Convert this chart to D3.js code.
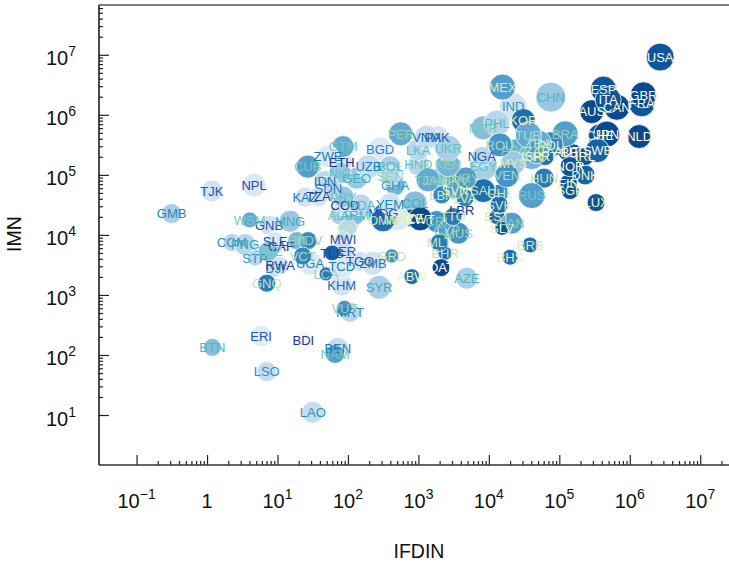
<!DOCTYPE html>
<html>
<head>
<meta charset="utf-8">
<script src="https://cdn.jsdelivr.net/npm/d3@7"></script>
<style>
  body { margin: 0; background: #fff; }
  svg text { font-family: "Liberation Sans", Arial, sans-serif; }
</style>
</head>
<body>
<svg id="chart" width="729" height="564"></svg>
<script>
// values, one entry per country
const codes = ["USA","CHN","MEX","IND","ESP","ITA","GBR","FRA","AUS","CAN","KOR","BRA","TUR","JPN","CHE","NLD","SWE","POL","THA","ZAF","ISR","MYS","PRT","AUT","BEL","IRL","NOR","DNK","HUN","FIN","SGP","LUX","RUS","VEN","ROU","PHL","MAR","NGA","EGY","SAU","CHL","SVK","EST","PAN","SLV","BRB","BHS","AZE","QAT","ABW","GRD","BHR","MLT","MUS","CYP","LBR","TTO","CRI","KWT","CZE","MOZ","OMN","MDG","YEM","COL","LBN","SVN","LVA","URY","HRV","JAM","TUN","GHA","HND","SEN","BOL","UZB","BGD","GEO","PER","VNM","PAK","UKR","LKA","KEN","GMB","TJK","NPL","WSM","GNB","MNG","COM","PNG","SLE","CAF","STP","SWZ","MDV","FJI","VCT","UGA","RWA","DJI","GNQ","LCA","NER","MWI","TCD","KHM","TLS","KAZ","TZA","CUB","ZWE","ETH","GTM","NIC","SDN","IDN","COD","PRY","ARM","CIV","MDA","ALB","TGO","ZMB","SYR","MRT","VUT","ERI","BTN","BDI","BEN","NAM","LSO","LAO","ARG"];
const ifdin = [2.70e6,7.57e4,1.56e4,2.21e4,4.23e5,4.93e5,1.56e6,1.48e6,2.89e5,6.55e5,3.09e4,1.21e5,3.64e4,4.72e5,3.79e5,1.36e6,3.48e5,7.40e4,5.05e4,4.80e4,4.07e4,2.21e4,6.28e4,1.28e5,1.57e5,2.32e5,1.42e5,2.32e5,6.08e4,1.35e5,1.42e5,3.33e5,4.07e4,1.80e4,1.44e4,1.30e4,8.28e3,7.94e3,8.36e3,8.36e3,1.44e4,1.40e4,1.30e4,2.12e4,1.53e4,3.85e4,2.00e4,4.86e3,2.10e3,806,419,2.39e3,1.99e3,3.70e3,2.53e3,4.13e3,3.10e3,1.82e3,1.06e3,787,515,315,318,396,897,2.15e3,3.32e3,4.60e3,4.75e3,3.32e3,1.73e3,1.37e3,467,1.00e3,396,396,195,286,133,562,1.31e3,1.84e3,2.64e3,989,2.64e3,0.315,1.17,4.65,4.04,7.59,15.1,2.26,3.46,9.23,11.2,4.80,7.35,27.2,18.8,22.8,29.0,10.9,9.23,7.04,48.9,83.4,85.3,81.7,81.7,59.5,24.6,38.0,26.9,52.2,81.7,85.3,77.3,52.7,47.3,91.0,85.3,126,100,153,77.3,149,227,277,107,89,5.85,1.19,23.3,71.7,65.6,7.04,31.7,2.36e4];
const imn = [9.16e6,1.97e6,2.90e6,1.37e6,2.68e6,1.78e6,2.15e6,1.53e6,1.13e6,1.34e6,8.04e5,4.82e5,4.64e5,4.77e5,4.47e5,4.35e5,2.54e5,3.16e5,3.37e5,2.44e5,2.02e5,1.58e5,2.02e5,2.44e5,2.33e5,2.02e5,1.37e5,1.00e5,8.81e4,7.27e4,5.47e4,3.45e4,4.52e4,9.73e4,3.16e5,7.27e5,6.07e5,2.02e5,1.37e5,5.47e4,5.01e4,3.16e4,2.02e4,1.57e4,1.29e4,6.81e3,4.25e3,1.90e3,2.85e3,2.02e3,4.47e3,4.95e3,7.44e3,1.07e4,1.21e4,2.54e4,2.02e4,1.67e4,1.85e4,1.92e4,1.85e4,1.78e4,2.30e4,3.29e4,3.41e4,4.64e4,5.62e4,4.14e4,8.91e4,8.26e4,8.26e4,8.26e4,6.63e4,1.47e5,9.37e4,1.37e5,1.37e5,2.71e5,8.81e4,4.82e5,4.25e5,4.14e5,2.79e5,2.61e5,1.47e5,2.26e4,5.41e4,6.73e4,1.78e4,1.45e4,1.69e4,7.44e3,6.89e3,7.73e3,6.56e3,4.09e3,5.27e3,8.04e3,8.04e3,4.47e3,3.37e3,3.08e3,2.82e3,1.57e3,2.24e3,5.27e3,8.48e3,2.96e3,1.47e3,5.01e3,4.25e4,4.35e4,1.37e5,2.02e5,1.60e5,2.96e5,1.08e5,6.00e4,7.73e4,3.16e4,4.30e4,2.15e4,1.31e4,3.16e4,2.15e4,3.59e3,3.37e3,1.34e3,515,600,207,134,173,129,104,52.7,11.1,2.61e5];
// bubble size, fill level and label level on a 0..1 reading of the picture
const sizeVal = [.93,1,.87,.93,.87,.87,.87,.87,.8,.87,.8,.87,.87,.87,.8,.8,.8,.87,.87,.8,.87,.8,.6,.6,.6,.6,.67,.67,.67,.6,.6,.6,.87,.8,.8,.87,.8,.67,.93,.8,.6,.6,.53,.73,.47,.53,.53,.73,.6,.53,.47,.47,.6,.73,.6,.47,.6,.73,.8,.6,.8,.8,.67,.73,.8,.6,.6,.6,.73,.73,.73,.8,.67,.73,.67,.73,.8,.8,.73,.8,.8,.8,.87,.73,.8,.67,.73,.8,.53,.67,.73,.6,.73,.67,.53,.53,.67,.6,.6,.6,.8,.6,.6,.6,.47,.73,.53,.8,.73,.53,.67,.67,.77,.73,.73,.73,.73,.8,.73,.73,.73,.67,.6,.73,.67,.67,.8,.8,.67,.53,.73,.6,.67,.73,.63,.67,.73,.73];
const fillVal = [.9,.4,.6,.2,.9,.9,.95,.9,.95,.95,.8,.6,.55,.95,.9,.95,.85,.7,.55,.6,.5,.4,.8,.9,.9,.9,.9,.85,.75,.9,.9,.9,.6,.65,.65,.3,.45,.3,.35,.8,.7,.8,.8,.6,.9,.8,.8,.35,.95,.8,.65,.8,.75,.65,.6,.05,.75,.65,.95,.95,.15,.8,.7,.2,.45,.7,.6,.7,.6,.6,.5,.55,.5,.3,.3,.35,.25,.15,.4,.55,.25,.2,.35,.3,.5,.35,.2,.15,.55,.2,.4,.3,.3,.15,.1,.3,.45,.7,.5,.7,.15,.2,.25,.75,.75,.25,.25,.15,.2,.85,.2,.2,.6,.15,.2,.55,.4,.3,.3,.2,.4,.45,.3,.3,.35,.2,.2,.35,.3,.65,.12,.45,.03,.25,.6,.25,.25,.55];
const textVal = [0,.45,.15,.6,.05,0,0,0,0,0,.1,.3,.25,0,.05,0,0,.1,.2,.15,.05,.15,.1,0,0,.05,0,.05,.2,.05,.05,.05,.35,.25,.25,.45,.35,.8,.4,.2,.15,.15,.15,.3,.1,.15,.1,.45,0,.1,.2,.2,.2,.25,.3,.95,.15,.3,0,.1,.1,.2,.85,.65,.5,.2,.1,.15,.3,.25,.25,.35,.55,.4,.3,.45,.7,.65,.5,.3,.75,.8,.4,.4,.3,.65,.8,.85,.35,.85,.5,.6,.55,.85,.9,.6,.35,.3,.3,.25,.65,.9,.65,.2,.3,.8,.85,.7,.75,.9,.7,.9,.35,.7,1,.35,.4,.7,.7,1,.4,.45,.2,.45,.35,.85,.7,.5,.65,.3,.8,.45,.95,.7,.35,.6,.6,.3];
const majorX = [-1,0,1,2,3,4,5,6,7];
const majorY = [1,2,3,4,5,6,7];

const width = 729, height = 564;
const margin = {top: 5, right: 0, bottom: 99, left: 99};

const x = d3.scaleLog().domain([0.0293, 2.56e7]).range([margin.left, width - margin.right]);
const y = d3.scaleLog().domain([1.47, 6.75e7]).range([height - margin.bottom, margin.top]);
const r = d3.scaleLinear().domain([0, 1]).range([0, 15]);
const fill = d3.scaleSequential(d3.interpolateBlues).domain([0, 1.05]);
const labelCol = d3.scaleSequentialPow(d3.interpolateYlGnBu).exponent(0.8).domain([0, 1.12]);

const svg = d3.select("#chart");

let rows = codes.map(function(c, i) {
  return {code: c, ifdin: ifdin[i], imn: imn[i], size: sizeVal[i], fill: fillVal[i], text: textVal[i]};
});
rows.sort((a, b) => d3.ascending(a.code, b.code));

svg.append("g").selectAll("circle")
  .data(rows)
  .enter()
  .append("circle")
  .attr("cx", d => x(d.ifdin))
  .attr("cy", d => y(d.imn))
  .attr("r", d => r(d.size))
  .attr("fill", d => fill(d.fill))
  .attr("stroke", "#fff")
  .attr("stroke-width", 0.8);
svg.append("g").selectAll("text")
  .data(rows)
  .enter()
  .append("text")
  .attr("x", d => x(d.ifdin))
  .attr("y", d => y(d.imn))
  .attr("text-anchor", "middle")
  .attr("dy", "0.36em")
  .attr("font-size", 13)
  .attr("fill", d => labelCol(d.text))
  .text(d => d.code);

// minor ticks at 2..9 of every decade
function minors(decades) {
  let out = [];
  decades.forEach(function(p) {
    d3.range(2, 10).forEach(m => out.push(m * Math.pow(10, p)));
  });
  return out;
}

function dressAxis(g) {
  g.selectAll(".domain").remove();
  g.selectAll("text").remove();
  g.selectAll("line").attr("stroke", "#222").attr("stroke-width", 1.2);
}

let xLine = height - margin.bottom;
let yLine = margin.left;

svg.append("g").attr("transform", "translate(0," + xLine + ")")
  .call(d3.axisBottom(x).tickValues(minors(majorX).filter(v => v < x.domain()[1])).tickSize(-4).tickFormat(""))
  .call(dressAxis);
svg.append("g").attr("transform", "translate(0," + xLine + ")")
  .call(d3.axisBottom(x).tickValues(majorX.map(p => Math.pow(10, p))).tickSize(-10).tickFormat(""))
  .call(dressAxis);
svg.append("g").attr("transform", "translate(" + yLine + ",0)")
  .call(d3.axisLeft(y).tickValues(minors(majorY).filter(v => v < y.domain()[1])).tickSize(-4).tickFormat(""))
  .call(dressAxis);
svg.append("g").attr("transform", "translate(" + yLine + ",0)")
  .call(d3.axisLeft(y).tickValues(majorY.map(p => Math.pow(10, p))).tickSize(-10).tickFormat(""))
  .call(dressAxis);

// frame lines: left, bottom, top
svg.append("line").attr("x1", yLine).attr("x2", yLine).attr("y1", margin.top).attr("y2", xLine)
  .attr("stroke", "#111").attr("stroke-width", 1.5);
svg.append("line").attr("x1", yLine).attr("x2", width).attr("y1", xLine).attr("y2", xLine)
  .attr("stroke", "#333").attr("stroke-width", 1.5);
svg.append("line").attr("x1", yLine).attr("x2", width).attr("y1", margin.top).attr("y2", margin.top)
  .attr("stroke", "#555").attr("stroke-width", 1.5);

// tick labels with the exponent raised
function powerLabel(sel, p) {
  if (p === 0) {
    sel.text("1");
    return;
  }
  sel.append("tspan").text("10");
  sel.append("tspan")
    .attr("font-size", 14)
    .attr("dy", -9)
    .text(p < 0 ? "\u2212" + (-p) : p);
}

majorX.forEach(function(p) {
  svg.append("text")
    .attr("x", x(Math.pow(10, p)))
    .attr("y", 508)
    .attr("text-anchor", "middle")
    .attr("font-size", 20)
    .attr("fill", "#111")
    .call(powerLabel, p);
});
majorY.forEach(function(p) {
  svg.append("text")
    .attr("x", 76)
    .attr("y", y(Math.pow(10, p)) + 10.5)
    .attr("text-anchor", "end")
    .attr("font-size", 20)
    .attr("fill", "#111")
    .call(powerLabel, p);
});

svg.append("text")
  .attr("x", 419)
  .attr("y", 558)
  .attr("text-anchor", "middle")
  .attr("font-size", 19.5)
  .attr("fill", "#111")
  .text("IFDIN");
svg.append("text")
  .attr("transform", "translate(21,234) rotate(-90)")
  .attr("text-anchor", "middle")
  .attr("font-size", 19.5)
  .attr("fill", "#111")
  .text("IMN");
</script>
</body>
</html>
